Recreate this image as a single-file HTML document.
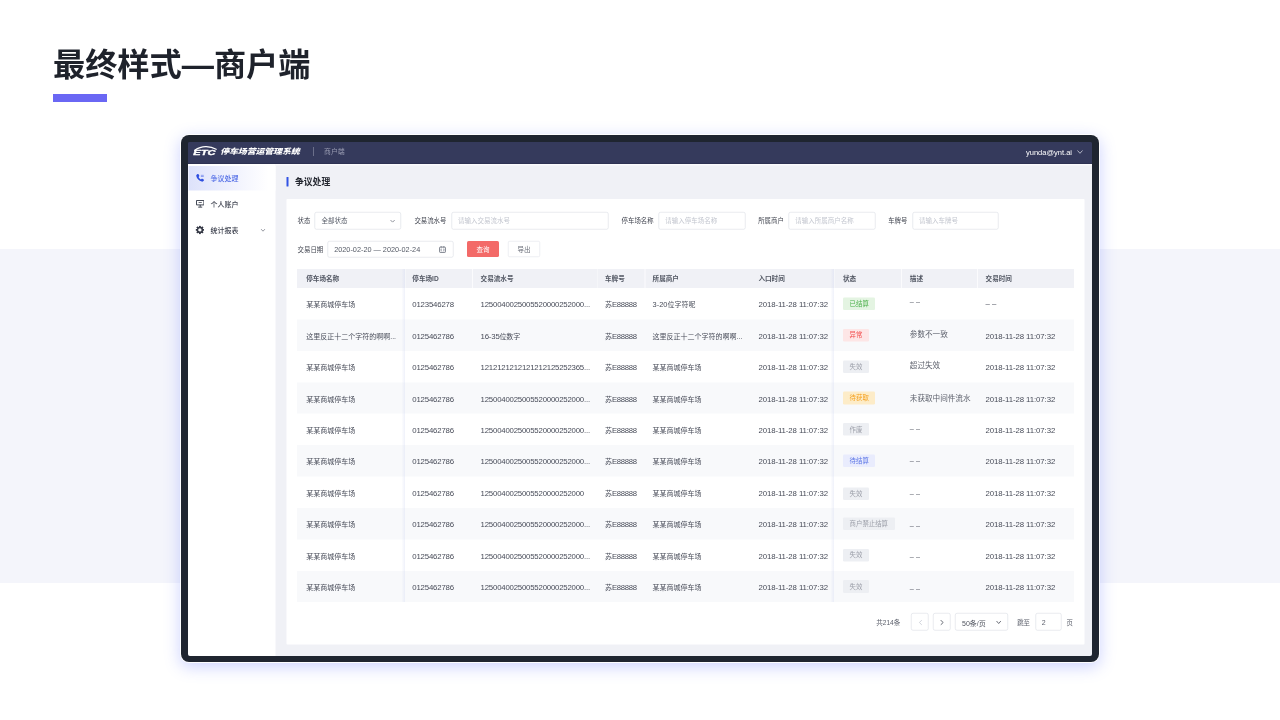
<!DOCTYPE html>
<html lang="zh-CN">
<head>
<meta charset="utf-8">
<title>最终样式—商户端</title>
<style>
html,body{margin:0;padding:0;}
body{width:1280px;height:720px;position:relative;overflow:hidden;background:#fff;font-family:"Liberation Sans","Noto Sans CJK SC",sans-serif;}
.band{position:absolute;left:0;top:249px;width:1280px;height:334px;background:#f4f5fb;}
.title{position:absolute;left:53px;top:41.2px;height:48px;line-height:48px;font-size:32.2px;font-weight:700;color:#1e222b;white-space:nowrap;letter-spacing:0;}
.bar{position:absolute;left:53px;top:94px;width:54px;height:8px;background:#6a67f4;}
.frame{position:absolute;left:181px;top:135px;width:918px;height:527px;background:#1f2530;border-radius:8px;box-shadow:0 0 0 1px rgba(255,255,255,.9),0 4px 16px 1px rgba(100,118,255,.32);}
.screen{position:absolute;left:7px;top:7px;width:904px;height:514px;overflow:hidden;border-radius:2px;background:#353a5c;}
.app{position:absolute;left:0;top:0;width:1808px;height:1028px;transform:scale(.5);transform-origin:0 0;}
.app div,.app svg.abs{position:absolute;}
.t{white-space:nowrap;}
.n{letter-spacing:0;}
.c{font-size:14px;}
.e{font-size:15.4px;letter-spacing:-0.62px;}
.d{font-size:14.9px;}
</style>
</head>
<body>
<div class="band"></div>
<div class="title">最终样式—商户端</div>
<div class="bar"></div>
<div class="frame"><div class="screen"><div class="app">
<div style="left:0px;top:0px;width:1808px;height:44.2px;background:linear-gradient(180deg,#353a5c 0,#353a5c 93%,#2a2e4e 100%);"></div>
<svg class="abs" style="left:10px;top:8.4px;width:48px;height:20px" viewBox="0 0 48 20"><path d="M3.5 8.6 C11 3.2 19 1.1 26.5 1.3 C34 1.5 41 3.6 46.4 6.6" fill="none" stroke="#fff" stroke-width="2.3" stroke-linecap="round"/><text x="0.6" y="18.6" font-family="Liberation Sans, sans-serif" font-size="15" font-weight="bold" font-style="italic" fill="#fff" stroke="#fff" stroke-width=".7" stroke-linejoin="round" textLength="44.5" lengthAdjust="spacingAndGlyphs">ETC</text></svg>
<div class="t" style="left:64.4px;top:7.2px;height:24px;line-height:24px;font-size:18px;color:#fff;font-weight:900;font-style:italic;letter-spacing:-0.36px;transform:scaleY(.83);transform-origin:0 50%;">停车场营运管理系统</div>
<div style="left:250px;top:10.4px;width:2px;height:17.6px;background:#6b6f8a;"></div>
<div class="t" style="left:272px;top:7.4px;height:24px;line-height:24px;font-size:13.8px;color:#9a9db3;">商户端</div>
<div class="t" style="left:1676px;top:8.4px;height:24px;line-height:24px;font-size:15px;color:#fff;">yunda@ynt.ai</div>
<svg class="abs" style="left:1777.6px;top:15.2px;width:12px;height:10px" viewBox="0 0 12 10"><path d="M1 2 L6 7.6 L11 2" fill="none" stroke="#e8e9f0" stroke-width="1.4"/></svg>
<div style="left:0px;top:44.2px;width:1808px;height:985.8px;background:#f0f1f6;"></div>
<div style="left:0px;top:44.2px;width:175.2px;height:985.8px;background:#fff;"></div>
<div style="left:1.2px;top:48px;width:174px;height:49.2px;background:linear-gradient(90deg,#dde2fb 0%,#eef0fd 45%,#ffffff 92%);"></div>
<svg class="abs" style="left:14.8px;top:63.2px;width:18.4px;height:17.2px" viewBox="0 0 24 22"><path d="M5.2 1.2 C6.2 .6 7.3 .9 7.9 1.9 L9.8 5.3 C10.3 6.2 10.1 7.2 9.3 7.9 L8 9 C9.3 11.8 11.3 13.9 14.2 15.3 L15.4 14 C16.1 13.2 17.2 13 18.1 13.6 L21.3 15.6 C22.3 16.2 22.5 17.4 21.9 18.3 C20.6 20.3 18.6 21.4 16.3 20.9 C9.3 19.3 3.6 13.6 2 6.6 C1.5 4.4 3 2.4 5.2 1.2 Z" fill="#2f4fe0"/><rect x="14" y="3.4" width="7.5" height="1.7" fill="#5d78ea"/><rect x="14" y="6.8" width="7.5" height="1.7" fill="#5d78ea"/></svg>
<div class="t" style="left:45.2px;top:60px;height:24px;line-height:24px;font-size:14px;color:#4f6be6;font-weight:500;">争议处理</div>
<svg class="abs" style="left:15.6px;top:116.4px;width:16.8px;height:15.6px" viewBox="0 0 21 19.5"><path d="M1.2 1.2 H19.8 V12.3 H1.2 Z" fill="none" stroke="#3a3f4c" stroke-width="2.4"/><rect x="6.5" y="5.6" width="8" height="1.9" fill="#3a3f4c"/><rect x="9.2" y="12.3" width="2.6" height="4.6" fill="#3a3f4c"/><rect x="5.5" y="16.6" width="10" height="2.4" fill="#3a3f4c"/></svg>
<div class="t" style="left:45.2px;top:112px;height:24px;line-height:24px;font-size:14px;color:#3f4350;font-weight:500;">个人账户</div>
<svg class="abs" style="left:14.6px;top:167px;width:17.6px;height:17.6px" viewBox="0 0 24.4 24.4"><rect x="9.6" y="0.4" width="5.2" height="5" rx=".8" transform="rotate(0 12.2 12.2)" fill="#353946"/><rect x="9.6" y="0.4" width="5.2" height="5" rx=".8" transform="rotate(45 12.2 12.2)" fill="#353946"/><rect x="9.6" y="0.4" width="5.2" height="5" rx=".8" transform="rotate(90 12.2 12.2)" fill="#353946"/><rect x="9.6" y="0.4" width="5.2" height="5" rx=".8" transform="rotate(135 12.2 12.2)" fill="#353946"/><rect x="9.6" y="0.4" width="5.2" height="5" rx=".8" transform="rotate(180 12.2 12.2)" fill="#353946"/><rect x="9.6" y="0.4" width="5.2" height="5" rx=".8" transform="rotate(225 12.2 12.2)" fill="#353946"/><rect x="9.6" y="0.4" width="5.2" height="5" rx=".8" transform="rotate(270 12.2 12.2)" fill="#353946"/><rect x="9.6" y="0.4" width="5.2" height="5" rx=".8" transform="rotate(315 12.2 12.2)" fill="#353946"/><circle cx="12.2" cy="12.2" r="6.7" fill="none" stroke="#353946" stroke-width="4.2"/></svg>
<div class="t" style="left:45.2px;top:164.4px;height:24px;line-height:24px;font-size:14px;color:#3f4350;font-weight:500;">统计报表</div>
<svg class="abs" style="left:144.8px;top:173.2px;width:10px;height:6.8px" viewBox="0 0 10 6.8"><path d="M1 1.2 L5 5.4 L9 1.2" fill="none" stroke="#6a6e7a" stroke-width="1.4"/></svg>
<div style="left:175.2px;top:44.2px;width:1632.8px;height:3px;background:#fafafc;"></div>
<div style="left:197.2px;top:70px;width:4px;height:18.8px;background:#3153e4;border-radius:1px;"></div>
<div class="t" style="left:214px;top:67.6px;height:24px;line-height:24px;font-size:17.6px;color:#23262f;font-weight:700;">争议处理</div>
<div style="left:197.2px;top:114px;width:1596.2px;height:890.8px;background:#fff;border-radius:1.5px;"></div>
<div class="t" style="left:219.2px;top:145.6px;height:24px;line-height:24px;font-size:12.8px;color:#40444f;">状态</div>
<div style="left:252.8px;top:140px;width:173.6px;height:35px;border:1.3px solid #d3d7df;border-radius:4px;background:#fff;box-sizing:border-box;"></div>
<div class="t" style="left:267.2px;top:145.2px;height:24px;line-height:24px;font-size:13px;color:#555a66;">全部状态</div>
<svg class="abs" style="left:404.4px;top:154.6px;width:10.4px;height:6.66px" viewBox="0 0 10 6.4"><path d="M1 1 L5 5.2 L9 1" fill="none" stroke="#6a6e7a" stroke-width="1.4"/></svg>
<div class="t" style="left:452.8px;top:145.6px;height:24px;line-height:24px;font-size:12.8px;color:#40444f;">交易流水号</div>
<div style="left:527px;top:140px;width:314px;height:35px;border:1.3px solid #d3d7df;border-radius:4px;background:#fff;box-sizing:border-box;"></div>
<div class="t" style="left:540px;top:145.2px;height:24px;line-height:24px;font-size:13px;color:#c3c6cf;">请输入交易流水号</div>
<div class="t" style="left:867.2px;top:145.6px;height:24px;line-height:24px;font-size:12.8px;color:#40444f;">停车场名称</div>
<div style="left:941.2px;top:140px;width:173.6px;height:35px;border:1.3px solid #d3d7df;border-radius:4px;background:#fff;box-sizing:border-box;"></div>
<div class="t" style="left:954.4px;top:145.2px;height:24px;line-height:24px;font-size:13px;color:#c3c6cf;">请输入停车场名称</div>
<div class="t" style="left:1140.4px;top:145.6px;height:24px;line-height:24px;font-size:12.8px;color:#40444f;">所属商户</div>
<div style="left:1201.2px;top:140px;width:173.6px;height:35px;border:1.3px solid #d3d7df;border-radius:4px;background:#fff;box-sizing:border-box;"></div>
<div class="t" style="left:1214.4px;top:145.2px;height:24px;line-height:24px;font-size:13px;color:#c3c6cf;">请输入所属商户名称</div>
<div class="t" style="left:1400.4px;top:145.6px;height:24px;line-height:24px;font-size:12.8px;color:#40444f;">车牌号</div>
<div style="left:1449px;top:140px;width:172px;height:35px;border:1.3px solid #d3d7df;border-radius:4px;background:#fff;box-sizing:border-box;"></div>
<div class="t" style="left:1462px;top:145.2px;height:24px;line-height:24px;font-size:13px;color:#c3c6cf;">请输入车牌号</div>
<div class="t" style="left:219.2px;top:203.2px;height:24px;line-height:24px;font-size:12.8px;color:#40444f;">交易日期</div>
<div style="left:279.2px;top:198px;width:251.4px;height:33px;border:1.3px solid #d3d7df;border-radius:4px;background:#fff;box-sizing:border-box;"></div>
<div class="t n" style="left:292.4px;top:203px;height:24px;line-height:24px;font-size:14.6px;color:#555a66;">2020-02-20 — 2020-02-24</div>
<svg class="abs" style="left:502px;top:208px;width:14px;height:14px" viewBox="0 0 14 14"><rect x="1.2" y="2.2" width="11.6" height="10.6" rx="1.2" fill="none" stroke="#666b78" stroke-width="1.7"/><path d="M4.4 .4 V3 M9.6 .4 V3" stroke="#666b78" stroke-width="1.5" fill="none"/><path d="M5 5 V10.6 M9 5 V10.6 M1.6 7.8 H4 M10 7.8 H12.4" stroke="#8d92a0" stroke-width="1.2" fill="none"/></svg>
<div style="left:558px;top:198.4px;width:63.6px;height:32px;background:#f36a68;border-radius:3.2px;"></div>
<div class="t" style="left:576.8px;top:202.8px;height:24px;line-height:24px;font-size:13px;color:#fff;">查询</div>
<div style="left:640px;top:198.4px;width:64px;height:32px;background:#fff;border:1.1px solid #dcdfe6;box-sizing:border-box;border-radius:3.2px;"></div>
<div class="t" style="left:658.8px;top:202.8px;height:24px;line-height:24px;font-size:13px;color:#666a75;">导出</div>
<div style="left:218.4px;top:253.6px;width:1553.2px;height:38.4px;background:#f0f1f6;"></div>
<div style="left:218.4px;top:354.84px;width:1553.2px;height:62.84px;background:#f8f9fb;"></div>
<div style="left:218.4px;top:480.52px;width:1553.2px;height:62.84px;background:#f8f9fb;"></div>
<div style="left:218.4px;top:606.2px;width:1553.2px;height:62.84px;background:#f8f9fb;"></div>
<div style="left:218.4px;top:731.88px;width:1553.2px;height:62.84px;background:#f8f9fb;"></div>
<div style="left:218.4px;top:857.56px;width:1553.2px;height:62.84px;background:#f8f9fb;"></div>
<div style="left:568.4px;top:253.6px;width:1.6px;height:38.4px;background:#fbfbfd;"></div>
<div style="left:817.6px;top:253.6px;width:1.6px;height:38.4px;background:#fbfbfd;"></div>
<div style="left:913.2px;top:253.6px;width:1.6px;height:38.4px;background:#fbfbfd;"></div>
<div style="left:1426.4px;top:253.6px;width:1.6px;height:38.4px;background:#fbfbfd;"></div>
<div style="left:1578.4px;top:253.6px;width:1.6px;height:38.4px;background:#fbfbfd;"></div>
<div style="left:426.8px;top:253.6px;width:6.8px;height:666.8px;background:linear-gradient(90deg,rgba(205,212,240,0) 0%,rgba(205,212,240,.32) 100%);"></div>
<div style="left:433.6px;top:253.6px;width:1.2px;height:38.4px;background:#fafbfd;"></div>
<div style="left:1284.8px;top:253.6px;width:6.8px;height:666.8px;background:linear-gradient(90deg,rgba(205,212,240,0) 0%,rgba(205,212,240,.32) 100%);"></div>
<div style="left:1291.6px;top:253.6px;width:1.2px;height:38.4px;background:#fafbfd;"></div>
<div class="t" style="left:236.4px;top:261.2px;height:24px;line-height:24px;font-size:13.2px;color:#525763;font-weight:700;">停车场名称</div>
<div class="t" style="left:448.6px;top:261.2px;height:24px;line-height:24px;font-size:13.2px;color:#525763;font-weight:700;">停车场ID</div>
<div class="t" style="left:585.2px;top:261.2px;height:24px;line-height:24px;font-size:13.2px;color:#525763;font-weight:700;">交易流水号</div>
<div class="t" style="left:834px;top:261.2px;height:24px;line-height:24px;font-size:13.2px;color:#525763;font-weight:700;">车牌号</div>
<div class="t" style="left:929.2px;top:261.2px;height:24px;line-height:24px;font-size:13.2px;color:#525763;font-weight:700;">所属商户</div>
<div class="t" style="left:1140.8px;top:261.2px;height:24px;line-height:24px;font-size:13.2px;color:#525763;font-weight:700;">入口时间</div>
<div class="t" style="left:1310px;top:261.2px;height:24px;line-height:24px;font-size:13.2px;color:#525763;font-weight:700;">状态</div>
<div class="t" style="left:1443.6px;top:261.2px;height:24px;line-height:24px;font-size:13.2px;color:#525763;font-weight:700;">描述</div>
<div class="t" style="left:1595.2px;top:261.2px;height:24px;line-height:24px;font-size:13.2px;color:#525763;font-weight:700;">交易时间</div>
<div class="t" style="left:236.4px;top:313.22px;height:24px;line-height:24px;font-size:14px;color:#484c59;">某某商城停车场</div>
<div class="t n" style="left:448.6px;top:313.22px;height:24px;line-height:24px;font-size:15.6px;color:#484c59;letter-spacing:-0.36px;">0123546278</div>
<div class="t n" style="left:585.2px;top:313.22px;height:24px;line-height:24px;font-size:15.6px;color:#484c59;letter-spacing:-0.4px;">1250040025005520000252000...</div>
<div class="t" style="left:834px;top:313.22px;height:24px;line-height:24px;font-size:14px;color:#484c59;">苏<span class="e">E88888</span></div>
<div class="t" style="left:929.2px;top:313.22px;height:24px;line-height:24px;font-size:14px;color:#484c59;"><span class="d">3-20</span>位字符呢</div>
<div class="t n" style="left:1140.8px;top:313.22px;height:24px;line-height:24px;font-size:15.6px;color:#484c59;letter-spacing:-0.18px;">2018-11-28 11:07:32</div>
<div style="left:1310px;top:310.82px;width:64.4px;height:25.2px;background:#e4f4e2;border-radius:2.4px;"></div>
<div class="t" style="left:1323.2px;top:311.62px;height:24px;line-height:24px;font-size:12.8px;color:#4bb04a;">已结算</div>
<div class="t n" style="left:1443.6px;top:305.62px;height:24px;line-height:24px;font-size:14.6px;color:#5a5e6a;">– –</div>
<div class="t n" style="left:1595.2px;top:310.62px;height:24px;line-height:24px;font-size:15.6px;color:#484c59;letter-spacing:-0.18px;">– –</div>
<div class="t" style="left:236.4px;top:376.06px;height:24px;line-height:24px;font-size:14px;color:#484c59;">这里反正十二个字符的啊啊...</div>
<div class="t n" style="left:448.6px;top:376.06px;height:24px;line-height:24px;font-size:15.6px;color:#484c59;letter-spacing:-0.36px;">0125462786</div>
<div class="t n" style="left:585.2px;top:376.06px;height:24px;line-height:24px;font-size:15.6px;color:#484c59;letter-spacing:-0.4px;">16-35<span class="c">位数字</span></div>
<div class="t" style="left:834px;top:376.06px;height:24px;line-height:24px;font-size:14px;color:#484c59;">苏<span class="e">E88888</span></div>
<div class="t" style="left:929.2px;top:376.06px;height:24px;line-height:24px;font-size:14px;color:#484c59;">这里反正十二个字符的啊啊...</div>
<div class="t n" style="left:1140.8px;top:376.06px;height:24px;line-height:24px;font-size:15.6px;color:#484c59;letter-spacing:-0.18px;">2018-11-28 11:07:32</div>
<div style="left:1310px;top:373.66px;width:52px;height:25.2px;background:#fde6e6;border-radius:2.4px;"></div>
<div class="t" style="left:1323.2px;top:374.46px;height:24px;line-height:24px;font-size:12.8px;color:#f24a4a;">异常</div>
<div class="t" style="left:1443.6px;top:372.46px;height:24px;line-height:24px;font-size:15.2px;color:#5f636e;">参数不一致</div>
<div class="t n" style="left:1595.2px;top:376.06px;height:24px;line-height:24px;font-size:15.6px;color:#484c59;letter-spacing:-0.18px;">2018-11-28 11:07:32</div>
<div class="t" style="left:236.4px;top:438.9px;height:24px;line-height:24px;font-size:14px;color:#484c59;">某某商城停车场</div>
<div class="t n" style="left:448.6px;top:438.9px;height:24px;line-height:24px;font-size:15.6px;color:#484c59;letter-spacing:-0.36px;">0125462786</div>
<div class="t n" style="left:585.2px;top:438.9px;height:24px;line-height:24px;font-size:15.6px;color:#484c59;letter-spacing:-0.4px;">1212121212121212125252365...</div>
<div class="t" style="left:834px;top:438.9px;height:24px;line-height:24px;font-size:14px;color:#484c59;">苏<span class="e">E88888</span></div>
<div class="t" style="left:929.2px;top:438.9px;height:24px;line-height:24px;font-size:14px;color:#484c59;">某某商城停车场</div>
<div class="t n" style="left:1140.8px;top:438.9px;height:24px;line-height:24px;font-size:15.6px;color:#484c59;letter-spacing:-0.18px;">2018-11-28 11:07:32</div>
<div style="left:1310px;top:436.5px;width:52px;height:25.2px;background:#edeff3;border-radius:2.4px;"></div>
<div class="t" style="left:1323.2px;top:437.3px;height:24px;line-height:24px;font-size:12.8px;color:#9b9ea8;">失效</div>
<div class="t" style="left:1443.6px;top:435.3px;height:24px;line-height:24px;font-size:15.2px;color:#5f636e;">超过失效</div>
<div class="t n" style="left:1595.2px;top:438.9px;height:24px;line-height:24px;font-size:15.6px;color:#484c59;letter-spacing:-0.18px;">2018-11-28 11:07:32</div>
<div class="t" style="left:236.4px;top:501.74px;height:24px;line-height:24px;font-size:14px;color:#484c59;">某某商城停车场</div>
<div class="t n" style="left:448.6px;top:501.74px;height:24px;line-height:24px;font-size:15.6px;color:#484c59;letter-spacing:-0.36px;">0125462786</div>
<div class="t n" style="left:585.2px;top:501.74px;height:24px;line-height:24px;font-size:15.6px;color:#484c59;letter-spacing:-0.4px;">1250040025005520000252000...</div>
<div class="t" style="left:834px;top:501.74px;height:24px;line-height:24px;font-size:14px;color:#484c59;">苏<span class="e">E88888</span></div>
<div class="t" style="left:929.2px;top:501.74px;height:24px;line-height:24px;font-size:14px;color:#484c59;">某某商城停车场</div>
<div class="t n" style="left:1140.8px;top:501.74px;height:24px;line-height:24px;font-size:15.6px;color:#484c59;letter-spacing:-0.18px;">2018-11-28 11:07:32</div>
<div style="left:1310px;top:499.34px;width:64.4px;height:25.2px;background:#fdecc8;border-radius:2.4px;"></div>
<div class="t" style="left:1323.2px;top:500.14px;height:24px;line-height:24px;font-size:12.8px;color:#f5a01e;">待获取</div>
<div class="t" style="left:1443.6px;top:499.74px;height:24px;line-height:24px;font-size:15.2px;color:#5f636e;">未获取中间件流水</div>
<div class="t n" style="left:1595.2px;top:501.74px;height:24px;line-height:24px;font-size:15.6px;color:#484c59;letter-spacing:-0.18px;">2018-11-28 11:07:32</div>
<div class="t" style="left:236.4px;top:564.58px;height:24px;line-height:24px;font-size:14px;color:#484c59;">某某商城停车场</div>
<div class="t n" style="left:448.6px;top:564.58px;height:24px;line-height:24px;font-size:15.6px;color:#484c59;letter-spacing:-0.36px;">0125462786</div>
<div class="t n" style="left:585.2px;top:564.58px;height:24px;line-height:24px;font-size:15.6px;color:#484c59;letter-spacing:-0.4px;">1250040025005520000252000...</div>
<div class="t" style="left:834px;top:564.58px;height:24px;line-height:24px;font-size:14px;color:#484c59;">苏<span class="e">E88888</span></div>
<div class="t" style="left:929.2px;top:564.58px;height:24px;line-height:24px;font-size:14px;color:#484c59;">某某商城停车场</div>
<div class="t n" style="left:1140.8px;top:564.58px;height:24px;line-height:24px;font-size:15.6px;color:#484c59;letter-spacing:-0.18px;">2018-11-28 11:07:32</div>
<div style="left:1310px;top:562.18px;width:52px;height:25.2px;background:#edeff3;border-radius:2.4px;"></div>
<div class="t" style="left:1323.2px;top:562.98px;height:24px;line-height:24px;font-size:12.8px;color:#9b9ea8;">作废</div>
<div class="t n" style="left:1443.6px;top:561.38px;height:24px;line-height:24px;font-size:14.6px;color:#5a5e6a;">– –</div>
<div class="t n" style="left:1595.2px;top:564.58px;height:24px;line-height:24px;font-size:15.6px;color:#484c59;letter-spacing:-0.18px;">2018-11-28 11:07:32</div>
<div class="t" style="left:236.4px;top:627.42px;height:24px;line-height:24px;font-size:14px;color:#484c59;">某某商城停车场</div>
<div class="t n" style="left:448.6px;top:627.42px;height:24px;line-height:24px;font-size:15.6px;color:#484c59;letter-spacing:-0.36px;">0125462786</div>
<div class="t n" style="left:585.2px;top:627.42px;height:24px;line-height:24px;font-size:15.6px;color:#484c59;letter-spacing:-0.4px;">1250040025005520000252000...</div>
<div class="t" style="left:834px;top:627.42px;height:24px;line-height:24px;font-size:14px;color:#484c59;">苏<span class="e">E88888</span></div>
<div class="t" style="left:929.2px;top:627.42px;height:24px;line-height:24px;font-size:14px;color:#484c59;">某某商城停车场</div>
<div class="t n" style="left:1140.8px;top:627.42px;height:24px;line-height:24px;font-size:15.6px;color:#484c59;letter-spacing:-0.18px;">2018-11-28 11:07:32</div>
<div style="left:1310px;top:625.02px;width:64.4px;height:25.2px;background:#e9ecfd;border-radius:2.4px;"></div>
<div class="t" style="left:1323.2px;top:625.82px;height:24px;line-height:24px;font-size:12.8px;color:#5a74e6;">待结算</div>
<div class="t n" style="left:1443.6px;top:625.42px;height:24px;line-height:24px;font-size:14.6px;color:#5a5e6a;">– –</div>
<div class="t n" style="left:1595.2px;top:627.42px;height:24px;line-height:24px;font-size:15.6px;color:#484c59;letter-spacing:-0.18px;">2018-11-28 11:07:32</div>
<div class="t" style="left:236.4px;top:690.26px;height:24px;line-height:24px;font-size:14px;color:#484c59;">某某商城停车场</div>
<div class="t n" style="left:448.6px;top:690.26px;height:24px;line-height:24px;font-size:15.6px;color:#484c59;letter-spacing:-0.36px;">0125462786</div>
<div class="t n" style="left:585.2px;top:690.26px;height:24px;line-height:24px;font-size:15.6px;color:#484c59;letter-spacing:-0.4px;">1250040025005520000252000</div>
<div class="t" style="left:834px;top:690.26px;height:24px;line-height:24px;font-size:14px;color:#484c59;">苏<span class="e">E88888</span></div>
<div class="t" style="left:929.2px;top:690.26px;height:24px;line-height:24px;font-size:14px;color:#484c59;">某某商城停车场</div>
<div class="t n" style="left:1140.8px;top:690.26px;height:24px;line-height:24px;font-size:15.6px;color:#484c59;letter-spacing:-0.18px;">2018-11-28 11:07:32</div>
<div style="left:1310px;top:690.66px;width:52px;height:25.2px;background:#edeff3;border-radius:2.4px;"></div>
<div class="t" style="left:1323.2px;top:691.46px;height:24px;line-height:24px;font-size:12.8px;color:#9b9ea8;">失效</div>
<div class="t n" style="left:1443.6px;top:689.86px;height:24px;line-height:24px;font-size:14.6px;color:#5a5e6a;">– –</div>
<div class="t n" style="left:1595.2px;top:690.26px;height:24px;line-height:24px;font-size:15.6px;color:#484c59;letter-spacing:-0.18px;">2018-11-28 11:07:32</div>
<div class="t" style="left:236.4px;top:753.1px;height:24px;line-height:24px;font-size:14px;color:#484c59;">某某商城停车场</div>
<div class="t n" style="left:448.6px;top:753.1px;height:24px;line-height:24px;font-size:15.6px;color:#484c59;letter-spacing:-0.36px;">0125462786</div>
<div class="t n" style="left:585.2px;top:753.1px;height:24px;line-height:24px;font-size:15.6px;color:#484c59;letter-spacing:-0.4px;">1250040025005520000252000...</div>
<div class="t" style="left:834px;top:753.1px;height:24px;line-height:24px;font-size:14px;color:#484c59;">苏<span class="e">E88888</span></div>
<div class="t" style="left:929.2px;top:753.1px;height:24px;line-height:24px;font-size:14px;color:#484c59;">某某商城停车场</div>
<div class="t n" style="left:1140.8px;top:753.1px;height:24px;line-height:24px;font-size:15.6px;color:#484c59;letter-spacing:-0.18px;">2018-11-28 11:07:32</div>
<div style="left:1310px;top:750.7px;width:103.6px;height:25.2px;background:#edeff3;border-radius:2.4px;"></div>
<div class="t" style="left:1323.2px;top:751.5px;height:24px;line-height:24px;font-size:12.8px;color:#9b9ea8;">商户禁止结算</div>
<div class="t n" style="left:1443.6px;top:753.5px;height:24px;line-height:24px;font-size:14.6px;color:#5a5e6a;">– –</div>
<div class="t n" style="left:1595.2px;top:753.1px;height:24px;line-height:24px;font-size:15.6px;color:#484c59;letter-spacing:-0.18px;">2018-11-28 11:07:32</div>
<div class="t" style="left:236.4px;top:815.94px;height:24px;line-height:24px;font-size:14px;color:#484c59;">某某商城停车场</div>
<div class="t n" style="left:448.6px;top:815.94px;height:24px;line-height:24px;font-size:15.6px;color:#484c59;letter-spacing:-0.36px;">0125462786</div>
<div class="t n" style="left:585.2px;top:815.94px;height:24px;line-height:24px;font-size:15.6px;color:#484c59;letter-spacing:-0.4px;">1250040025005520000252000...</div>
<div class="t" style="left:834px;top:815.94px;height:24px;line-height:24px;font-size:14px;color:#484c59;">苏<span class="e">E88888</span></div>
<div class="t" style="left:929.2px;top:815.94px;height:24px;line-height:24px;font-size:14px;color:#484c59;">某某商城停车场</div>
<div class="t n" style="left:1140.8px;top:815.94px;height:24px;line-height:24px;font-size:15.6px;color:#484c59;letter-spacing:-0.18px;">2018-11-28 11:07:32</div>
<div style="left:1310px;top:813.54px;width:52px;height:25.2px;background:#edeff3;border-radius:2.4px;"></div>
<div class="t" style="left:1323.2px;top:814.34px;height:24px;line-height:24px;font-size:12.8px;color:#9b9ea8;">失效</div>
<div class="t n" style="left:1443.6px;top:817.14px;height:24px;line-height:24px;font-size:14.6px;color:#5a5e6a;">– –</div>
<div class="t n" style="left:1595.2px;top:815.94px;height:24px;line-height:24px;font-size:15.6px;color:#484c59;letter-spacing:-0.18px;">2018-11-28 11:07:32</div>
<div class="t" style="left:236.4px;top:878.78px;height:24px;line-height:24px;font-size:14px;color:#484c59;">某某商城停车场</div>
<div class="t n" style="left:448.6px;top:878.78px;height:24px;line-height:24px;font-size:15.6px;color:#484c59;letter-spacing:-0.36px;">0125462786</div>
<div class="t n" style="left:585.2px;top:878.78px;height:24px;line-height:24px;font-size:15.6px;color:#484c59;letter-spacing:-0.4px;">1250040025005520000252000...</div>
<div class="t" style="left:834px;top:878.78px;height:24px;line-height:24px;font-size:14px;color:#484c59;">苏<span class="e">E88888</span></div>
<div class="t" style="left:929.2px;top:878.78px;height:24px;line-height:24px;font-size:14px;color:#484c59;">某某商城停车场</div>
<div class="t n" style="left:1140.8px;top:878.78px;height:24px;line-height:24px;font-size:15.6px;color:#484c59;letter-spacing:-0.18px;">2018-11-28 11:07:32</div>
<div style="left:1310px;top:876.38px;width:52px;height:25.2px;background:#edeff3;border-radius:2.4px;"></div>
<div class="t" style="left:1323.2px;top:877.18px;height:24px;line-height:24px;font-size:12.8px;color:#9b9ea8;">失效</div>
<div class="t n" style="left:1443.6px;top:880.78px;height:24px;line-height:24px;font-size:14.6px;color:#5a5e6a;">– –</div>
<div class="t n" style="left:1595.2px;top:878.78px;height:24px;line-height:24px;font-size:15.6px;color:#484c59;letter-spacing:-0.18px;">2018-11-28 11:07:32</div>
<div class="t" style="left:1376.4px;top:949.8px;height:24px;line-height:24px;font-size:13.2px;color:#5a5e6a;">共214条</div>
<div style="left:1446.4px;top:942.4px;width:34.8px;height:34.8px;border:1.3px solid #d3d7df;border-radius:4px;background:#fff;box-sizing:border-box;"></div>
<div style="left:1490.2px;top:942.4px;width:34.8px;height:34.8px;border:1.3px solid #d3d7df;border-radius:4px;background:#fff;box-sizing:border-box;"></div>
<svg class="abs" style="left:1461.2px;top:955px;width:8px;height:12px" viewBox="0 0 8 12"><path d="M6.6 1.2 L1.8 6 L6.6 10.8" fill="none" stroke="#c0c4cf" stroke-width="1.5"/></svg>
<svg class="abs" style="left:1504.4px;top:955px;width:8px;height:12px" viewBox="0 0 8 12"><path d="M1.4 1.2 L6.2 6 L1.4 10.8" fill="none" stroke="#4a4e5a" stroke-width="1.7"/></svg>
<div style="left:1534.4px;top:942.4px;width:105.2px;height:34.8px;border:1.3px solid #d3d7df;border-radius:4px;background:#fff;box-sizing:border-box;"></div>
<div class="t" style="left:1548px;top:950.2px;height:24px;line-height:24px;font-size:14px;color:#50545f;">50条/页</div>
<svg class="abs" style="left:1615.6px;top:957.4px;width:10.8px;height:7.34px" viewBox="0 0 10 6.8"><path d="M1 1 L5 5.6 L9 1" fill="none" stroke="#4a4e5a" stroke-width="1.5"/></svg>
<div class="t" style="left:1658.4px;top:949.8px;height:24px;line-height:24px;font-size:12.8px;color:#5a5e6a;">跳至</div>
<div style="left:1695.2px;top:942.4px;width:52px;height:34.8px;border:1.3px solid #d3d7df;border-radius:4px;background:#fff;box-sizing:border-box;"></div>
<div class="t n" style="left:1707.6px;top:948.4px;height:24px;line-height:24px;font-size:14px;color:#5a5e6a;">2</div>
<div class="t" style="left:1757.2px;top:949.2px;height:24px;line-height:24px;font-size:12.8px;color:#5a5e6a;">页</div>
</div></div></div>
</body>
</html>
